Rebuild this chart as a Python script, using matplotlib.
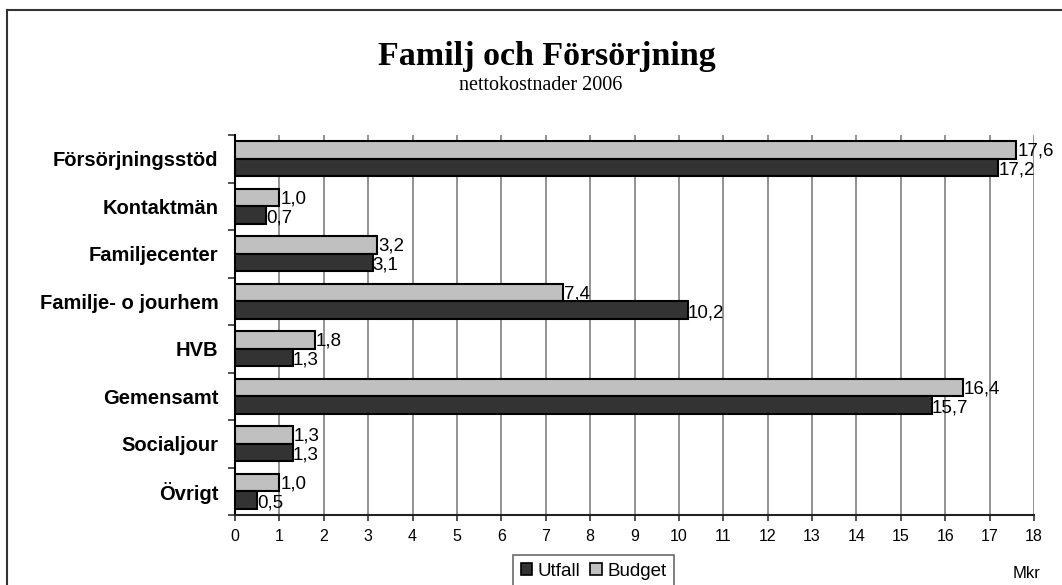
import matplotlib
matplotlib.use("Agg")
import matplotlib.pyplot as plt
import numpy as np
from matplotlib.lines import Line2D

categories = ["Försörjningsstöd", "Kontaktmän", "Familjecenter", "Familje- o jourhem",
              "HVB", "Gemensamt", "Socialjour", "Övrigt"]
utfall = [17.2, 0.7, 3.1, 10.2, 1.3, 15.7, 1.3, 0.5]
budget = [17.6, 1.0, 3.2, 7.4, 1.8, 16.4, 1.3, 1.0]
xticks = list(range(0, 19))

W, H = 1062, 585
fig = plt.figure(figsize=(W / 100, H / 100), dpi=100)
fig.patch.set_facecolor("white")

ax = fig.add_axes([235 / W, 1 - 515 / H, (1034 - 235) / W, (515 - 135) / H])

y = np.arange(len(categories))
h = 0.368
dark = "#333333"
light = "#C0C0C0"

ax.barh(y - h / 2, budget, height=h, color=light, edgecolor="black", linewidth=1.5, zorder=3, label="Budget")
ax.barh(y + h / 2, utfall, height=h, color=dark, edgecolor="black", linewidth=1.5, zorder=3, label="Utfall")

sans = ["Liberation Sans", "DejaVu Sans"]

for yi, v in zip(y, budget):
    ax.annotate(f"{v:.1f}".replace(".", ","), (v, yi - h / 2), xytext=(1, -1), textcoords="offset pixels",
                ha="left", va="center", fontsize=13.5, family=sans, zorder=4)
for yi, v in zip(y, utfall):
    ax.annotate(f"{v:.1f}".replace(".", ","), (v, yi + h / 2), xytext=(0, -3), textcoords="offset pixels",
                ha="left", va="center", fontsize=13.5, family=sans, zorder=4)

ax.set_xlim(0, 18)
ax.set_ylim(7.5, -0.5)
ax.set_xticks(xticks)
ax.set_xticklabels([str(t) for t in xticks], family=sans, fontsize=11.5)
ax.grid(axis="x", color="#808080", linewidth=1.2, zorder=0)

ax.set_yticks(y)
ax.set_yticklabels(categories, fontsize=14.5, fontweight="bold", family=sans)
ax.set_yticks(np.arange(-0.5, 8.0, 1.0), minor=True)
ax.tick_params(axis="y", which="major", length=0, pad=12)
ax.tick_params(axis="y", which="minor", length=5, width=1.2, color="#333333", direction="out")
ax.tick_params(axis="x", length=4, width=1.2, color="#333333", pad=6)

for s in ["top", "right"]:
    ax.spines[s].set_visible(False)
ax.spines["left"].set_linewidth(1.5)
ax.spines["left"].set_color("black")
ax.spines["bottom"].set_linewidth(1.5)
ax.spines["bottom"].set_color("#222222")

fig.text(547 / W, 1 - 56 / H, "Familj och Försörjning", ha="center", va="center",
         fontsize=24.5, fontweight="bold", family=["Liberation Serif", "DejaVu Serif"])
fig.text(541 / W, 1 - 86 / H, "nettokostnader 2006", ha="center", va="center",
         fontsize=14.5, family=["Liberation Serif", "DejaVu Serif"])

handles = [plt.Rectangle((0, 0), 1, 1, facecolor=dark, edgecolor="black", linewidth=1.2),
           plt.Rectangle((0, 0), 1, 1, facecolor=light, edgecolor="black", linewidth=1.2)]
leg = fig.legend(handles, ["Utfall", "Budget"], loc="upper left", bbox_to_anchor=(513 / W, 1 - 555 / H),
                 ncol=2, frameon=True, fancybox=False, edgecolor="#444444",
                 prop={"family": sans, "size": 13.5},
                 handlelength=0.6, handleheight=0.6, handletextpad=0.3, columnspacing=0.55,
                 borderpad=0.4, borderaxespad=0)
leg.get_frame().set_linewidth(1.2)

fig.text(1027 / W, 1 - 574 / H, "Mkr", ha="center", va="center", fontsize=12, family=sans)

fig.add_artist(Line2D([7 / W, 7 / W], [0, 1 - 10 / H], color="#333333", linewidth=1.5))
fig.add_artist(Line2D([7 / W, 1], [1 - 10 / H, 1 - 10 / H], color="#333333", linewidth=1.5))

fig.savefig("out.png", dpi=100)
